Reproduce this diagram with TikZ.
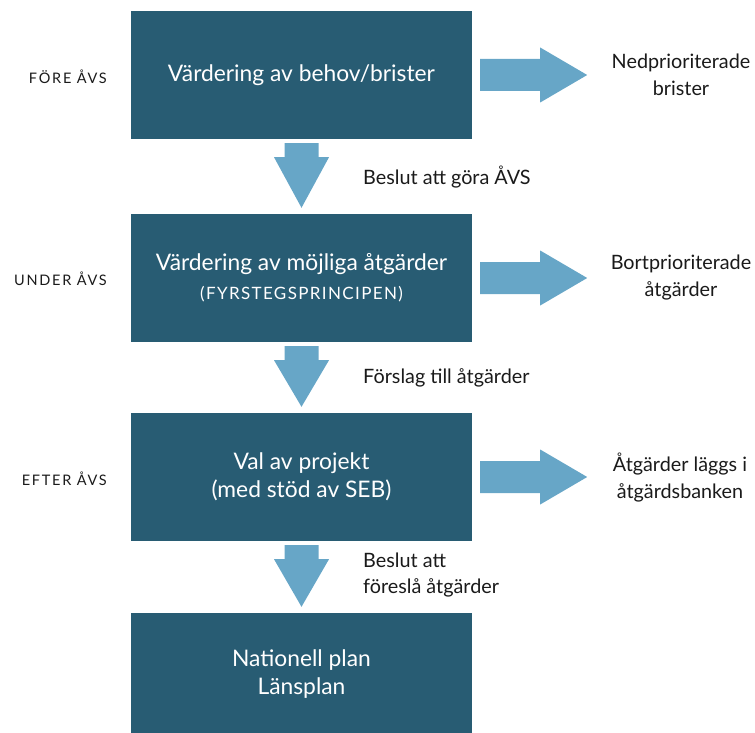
\documentclass[tikz,border=0pt]{standalone}
\usepackage{fontspec}
\setmainfont{Lato}
\usetikzlibrary{calc}
\definecolor{boxblue}{HTML}{285C73}
\definecolor{arrblue}{HTML}{67A6C7}
\definecolor{txt}{HTML}{1A1A1A}
\newcommand\scfake[2]{{\addfontfeatures{LetterSpace=#1}#2}}
\tikzset{
  stage/.style={fill=boxblue, draw=none, minimum width=341pt, minimum height=128pt, text=white, font=\fontsize{22.8}{28}\selectfont, align=center, inner sep=0pt},
  phase/.style={anchor=east, text=txt, font=\fontsize{14.5}{15}\selectfont, inner sep=0pt},
  outlbl/.style={text=txt, font=\fontsize{19.8}{27}\selectfont, align=center, inner sep=0pt},
  edgelbl/.style={anchor=west, text=txt, font=\fontsize{19.8}{26}\selectfont, align=left, inner sep=0pt},
  blockarrow/.style={fill=arrblue, draw=none}
}
\newcommand\downarr[2]{%
  \fill[blockarrow] ($(#1.south)+(-17,4)$) -- ($(#1.south)+(17,4)$) -- ($(#1.south)+(17,18)$) -- ($(#1.south)+(27.5,18)$) -- ($(#2.north)+(0,-6)$) -- ($(#1.south)+(-27.5,18)$) -- ($(#1.south)+(-17,18)$) -- cycle;}
\newcommand\rightarr[1]{%
  \fill[blockarrow] ($(#1.east)+(8,-16)$) -- ($(#1.east)+(68,-16)$) -- ($(#1.east)+(68,-27.5)$) -- ($(#1.east)+(115,0)$) -- ($(#1.east)+(68,27.5)$) -- ($(#1.east)+(68,16)$) -- ($(#1.east)+(8,16)$) -- cycle;}
\begin{document}
\begin{tikzpicture}[x=1pt,y=-1pt]
\useasboundingbox (0,0) rectangle (755,733);
\node[stage] (b1) at (301.5,75) {Värdering av behov/brister};
\node[stage] (b2) at (301.5,278) {Värdering av möjliga åtgärder\\[1pt]{\fontsize{17}{20}\selectfont\scfake{8}{(FYRSTEGSPRINCIPEN)}}};
\node[stage] (b3) at (301.5,477) {Val av projekt\\(med stöd av SEB)};
\node[stage, minimum height=122pt] (b4) at (301.5,674) {Nationell plan\\Länsplan};
\node[phase] (p1) at (107,77) {\scfake{12}{FÖRE ÅVS}};
\node[phase] (p2) at (107,279) {\scfake{12}{UNDER ÅVS}};
\node[phase] (p3) at (107,479) {\scfake{12}{EFTER ÅVS}};
\downarr{b1}{b2}
\downarr{b2}{b3}
\downarr{b3}{b4}
\rightarr{b1}
\rightarr{b2}
\rightarr{b3}
\node[outlbl] (o1) at (681,75) {Nedprioriterade\\brister};
\node[outlbl] (o2) at (681,277.5) {Bortprioriterade\\åtgärder};
\node[outlbl] (o3) at (680,478) {Åtgärder läggs i\\åtgärdsbanken};
\node[edgelbl] (e1) at (363,177) {Beslut att göra ÅVS};
\node[edgelbl] (e2) at (363,378) {Förslag till åtgärder};
\node[edgelbl] (e3) at (363,575) {Beslut att\\föreslå åtgärder};
\end{tikzpicture}
\end{document}
